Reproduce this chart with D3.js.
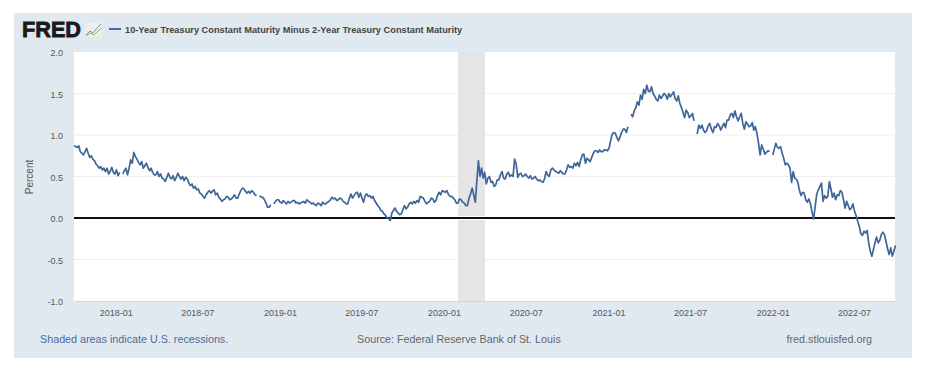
<!DOCTYPE html>
<html>
<head>
<meta charset="utf-8">
<script src="https://cdn.jsdelivr.net/npm/d3@7/dist/d3.min.js"></script>
<style>
html,body{margin:0;padding:0;background:#fff;}
svg{display:block;font-family:"Liberation Sans",Arial,sans-serif;}
</style>
</head>
<body>
<svg id="chart" width="925" height="369"></svg>
<script>
const seriesName = "10-Year Treasury Constant Maturity Minus 2-Year Treasury Constant Maturity";
const firstDay = "2017-09-30";
const lastDay = "2022-09-30";
const stepHours = 84; // two readings per week
const spread = [
 .87,.86,.85,.87,.80,.78,.76,.80,.84,.78,.73,.75,.71,.69,.65,.63,.60,.62,.58,.60,
 .56,.60,.53,.56,.61,.55,.53,.58,.51,.55,null,.53,.57,.60,.52,.60,.70,.66,.79,.74,
 .71,.67,.64,.68,.60,.63,.66,.61,.57,.60,.55,.52,.52,.56,.50,.53,.48,.47,.44,.49,
 .54,.49,.47,.51,.45,.49,.54,.50,.47,.50,.45,.49,.47,.42,.39,.41,.36,.38,.34,.35,
 .30,.29,.26,.24,.28,.31,.33,.30,.32,.34,.28,.30,.25,.23,.20,.22,.23,.26,.25,.22,
 .23,.25,.28,.24,.24,.29,.33,.36,.35,.32,.30,.32,.30,.33,.31,.28,.27,null,.27,.25,
 .25,.22,.18,.13,.13,.16,null,.17,.20,.22,.22,.19,.18,.21,.19,.17,.20,.18,.19,.21,
 .21,.18,.19,.17,.18,.19,.20,.18,.22,.20,.19,.17,.18,.16,.15,.18,.17,.15,.19,.17,
 .17,.19,.20,.22,.25,.23,.24,.21,.22,.24,.23,.20,.19,.17,.17,.24,.29,.24,.27,.30,
 .31,.25,.30,.24,.19,.27,.29,.26,.27,.24,.26,.21,.18,.15,.13,.09,.08,.05,.03,.00,
 -.01,-.03,.06,.09,.12,.08,.06,.04,.05,.10,.15,.11,.13,.17,.19,.17,.20,.18,.21,.19,
 .26,.25,.24,.20,.17,.19,.20,.24,.23,.19,.21,.27,.31,.28,.33,.32,.31,.33,.28,.26,
 .26,.24,.22,.18,.18,.23,.22,.19,.18,.15,.15,.24,.29,.36,.28,.19,.45,.69,.50,.60,
 .48,.55,.41,.48,.50,.43,.44,.38,.40,.46,.46,.52,.56,.48,.47,.53,.55,.50,.52,.50,
 .71,.65,.49,.53,.54,.50,.51,.53,.50,.48,.51,.47,.48,.50,.47,.45,.46,.44,.43,.47,
 .56,.52,.50,.58,.60,.58,.56,.55,.54,.57,.55,.53,.53,.58,.64,.61,.62,.60,.66,.63,
 .67,.62,.70,.76,.77,.66,.72,.70,.68,.73,.78,.81,.81,.79,.82,.80,.80,.82,.82,.81,
 .84,.93,1.01,1.03,1.02,.97,.93,.98,1.03,1.07,1.07,1.03,1.10,null,1.25,1.22,1.29,1.33,1.40,1.36,
 1.48,1.43,1.55,1.50,1.60,1.53,1.52,1.58,1.50,1.47,1.43,1.41,1.48,1.44,1.47,1.50,1.48,1.43,1.50,1.46,
 1.49,1.52,1.44,1.41,1.47,1.38,1.33,1.27,1.21,1.30,1.27,1.21,1.23,1.26,1.17,null,1.01,1.12,1.08,1.12,
 1.06,1.03,1.05,1.11,1.14,1.07,1.03,1.10,1.09,1.14,1.11,1.06,1.10,1.14,1.09,1.18,1.18,1.24,1.26,1.21,
 1.29,1.22,1.17,1.22,1.26,1.14,1.07,1.16,1.13,1.10,1.11,1.15,1.06,1.10,1.02,.90,.76,.88,.83,.77,
 .79,.81,.80,null,.76,.83,.90,.85,.84,.86,.78,.72,.64,.66,.64,.60,.43,.56,.48,.47,
 .43,.33,.27,.31,.30,.22,.19,.23,.17,.07,-.01,.14,.29,.34,.38,.42,.20,.27,.24,.26,
 .44,.35,.25,.30,.22,.28,.27,.33,.31,.22,.12,.20,.15,.10,.12,.17,.08,.03,-.04,-.10,
 -.19,-.21,-.16,-.18,-.15,-.30,-.40,-.46,-.38,-.30,-.23,-.30,-.27,-.20,-.17,-.20,-.28,-.37,-.44,-.36,
 -.46,-.40,-.33
];
const recessionStart = "2020-02-01";
const recessionEnd = "2020-04-01";
const yTicks = [-1,-0.5,0,0.5,1,1.5,2];
const gridLevels = [-0.5,0.5,1,1.5];
const xTicks = ["2018-01-01","2018-07-01","2019-01-01","2019-07-01","2020-01-01","2020-07-01","2021-01-01","2021-07-01","2022-01-01","2022-07-01"];
const footerLeft = "Shaded areas indicate U.S. recessions.";
const footerMid = "Source: Federal Reserve Bank of St. Louis";
const footerRight = "fred.stlouisfed.org";

const parse = d3.utcParse("%Y-%m-%d");
const fmtMonth = d3.utcFormat("%Y-%m");
const svg = d3.select("#chart");
const L = 74, R = 895, T = 52, B = 301;
const x = d3.scaleUtc().domain([parse(firstDay), parse(lastDay)]).range([L, R]);
const y = d3.scaleLinear().domain([-1, 2]).range([B, T]);
const data = spread.map((v, i) => ({date: d3.utcHour.offset(parse(firstDay), i * stepHours), value: v}));

// panel
svg.append("rect").attr("x",14).attr("y",13).attr("width",898).attr("height",345).attr("fill","#e1e9f0");
svg.append("rect").attr("x",L).attr("y",T).attr("width",R-L).attr("height",B-T).attr("fill","#fff");

// grid
svg.append("g").selectAll("line").data(gridLevels).join("line")
  .attr("x1",L).attr("x2",R).attr("y1",d=>y(d)).attr("y2",d=>y(d))
  .attr("stroke","#eeeeee").attr("stroke-width",1);

// recession
svg.append("rect").attr("x",x(parse(recessionStart))).attr("y",T)
  .attr("width",x(parse(recessionEnd))-x(parse(recessionStart))).attr("height",B-T).attr("fill","#e5e5e5");

// y axis
const yAxis = svg.append("g").attr("transform",`translate(${L},0)`)
  .call(d3.axisLeft(y).tickValues(yTicks).tickFormat(d3.format(".1f")).tickSize(0).tickPadding(11));
yAxis.select(".domain").remove();
yAxis.selectAll("text").attr("font-size",9).attr("fill","#555").attr("font-family","'Liberation Sans',Arial,sans-serif").attr("dy","0.42em")
  .text(d=>d3.format(".1f")(d).replace("\u2212","-"));

// x axis
const xAxis = svg.append("g").attr("transform",`translate(0,${B})`)
  .call(d3.axisBottom(x).tickValues(xTicks.map(parse)).tickFormat(fmtMonth).tickSize(0).tickPadding(9));
xAxis.select(".domain").attr("stroke","#ccd6e6").attr("stroke-width",1);
xAxis.selectAll("text").attr("font-size",9).attr("fill","#555").attr("font-family","'Liberation Sans',Arial,sans-serif");

// zero line
svg.append("line").attr("x1",L).attr("x2",R).attr("y1",y(0)).attr("y2",y(0)).attr("stroke","#fff").attr("stroke-width",4);
svg.append("line").attr("x1",L).attr("x2",R).attr("y1",y(0)).attr("y2",y(0)).attr("stroke","#111").attr("stroke-width",2);

// series
svg.append("path").datum(data)
  .attr("fill","none").attr("stroke","#3f6698").attr("stroke-width",1.7).attr("stroke-linejoin","round")
  .attr("d",d3.line().defined(d=>d.value!==null).x(d=>x(d.date)).y(d=>y(d.value)));

// y title
svg.append("text").attr("transform","translate(33,177) rotate(-90)").attr("text-anchor","middle")
  .attr("font-size",10).attr("fill","#555").text("Percent");

// logo
svg.append("text").attr("x",22).attr("y",37).attr("font-size",21.5).attr("font-weight","bold")
  .attr("fill","#1a1a1a").attr("stroke","#1a1a1a").attr("stroke-width",0.8).attr("textLength",59).attr("lengthAdjust","spacingAndGlyphs").text("FRED");
const icon = svg.append("g");
icon.append("rect").attr("x",85).attr("y",23).attr("width",17).attr("height",14).attr("fill","#eef0e8");
icon.append("path").attr("d","M86 35 L90 31 L93 33 L97 28 L101 24").attr("fill","none").attr("stroke","#7f94a8").attr("stroke-width",1);
icon.append("path").attr("d","M86 36 L90 33 L94 35 L98 31 L102 28").attr("fill","none").attr("stroke","#9aa97a").attr("stroke-width",1);

// legend
svg.append("line").attr("x1",109).attr("x2",121).attr("y1",29).attr("y2",29).attr("stroke","#4a6da0").attr("stroke-width",2);
svg.append("text").attr("x",125).attr("y",32.5).attr("font-size",9.25).attr("font-weight","bold").attr("fill","#444").text(seriesName);

// footer
svg.append("text").attr("x",40).attr("y",343).attr("font-size",10.75).attr("fill","#4a6a9c").text(footerLeft);
svg.append("text").attr("x",357).attr("y",343).attr("font-size",10.75).attr("fill","#666").text(footerMid);
svg.append("text").attr("x",872).attr("y",343).attr("text-anchor","end").attr("font-size",10.75).attr("fill","#666").text(footerRight);
</script>
</body>
</html>
